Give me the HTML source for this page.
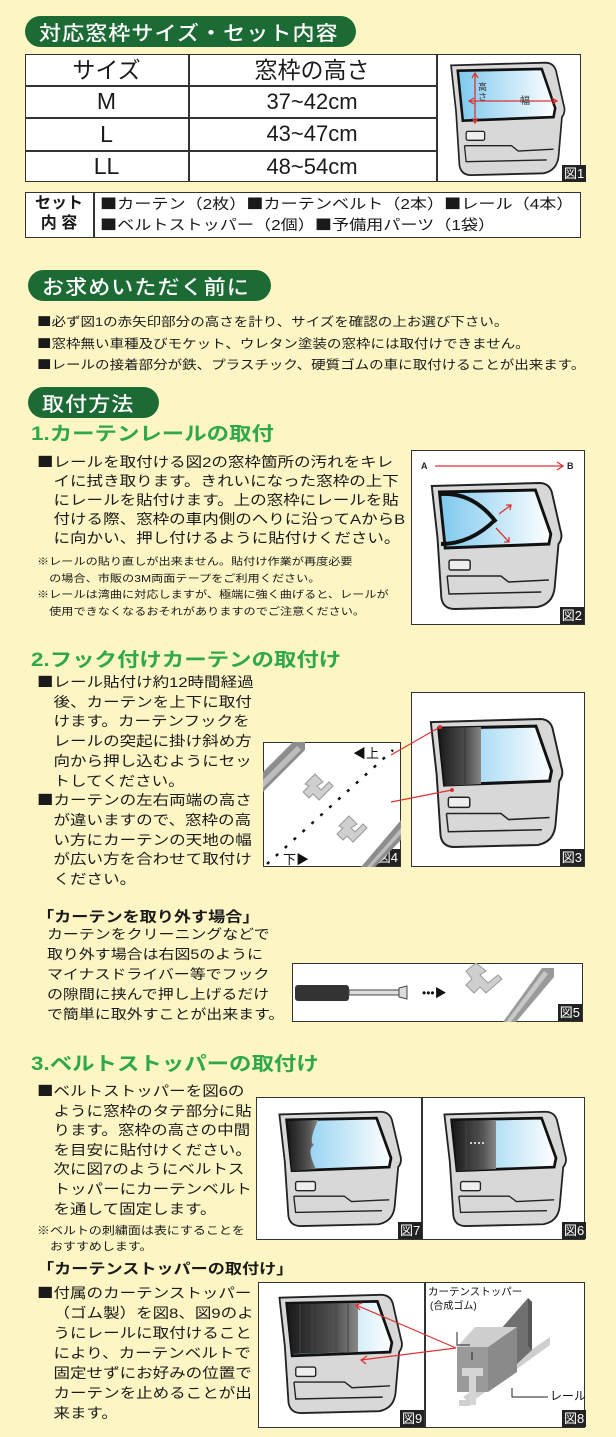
<!DOCTYPE html>
<html><head><meta charset="utf-8">
<style>
*{margin:0;padding:0;box-sizing:border-box}
body{width:616px;height:1437px;background:#fdf6c4;position:relative;overflow:hidden;font-family:"Liberation Sans","Noto Sans CJK JP",sans-serif;color:#1a1a1a}
.a{position:absolute}
.t{position:absolute;transform-origin:0 0;transform:scaleX(1.18);white-space:nowrap}
.q{font-family:"Noto Sans CJK JP",sans-serif}
.pill{position:absolute;background:#1c6b35;color:#fff;border-radius:16px;font-size:20px;line-height:31px;padding-left:14px;letter-spacing:1px;font-weight:bold}
.pill span{display:inline-block;transform-origin:0 50%;transform:scaleX(1.1);white-space:nowrap;font-family:"Noto Sans CJK JP",sans-serif;font-weight:500}
.gh{position:absolute;color:#2ea84a;font-weight:bold;font-size:19px;line-height:24px;transform-origin:0 0;transform:scaleX(1.18);white-space:nowrap}
.in{padding-left:1em}
.fig{position:absolute;background:#fff;border:1.5px solid #333}
.lab{position:absolute;right:0;bottom:0;background:#222;color:#fff;font-size:13px;line-height:17px;padding:0 2px}
svg{position:absolute;left:0;top:0}
</style></head><body>
<svg width="0" height="0" style="position:absolute">
<defs>
<linearGradient id="gl" x1="0" x2="1" y1="0" y2="0"><stop offset="0" stop-color="#7cc8ee"/><stop offset="1" stop-color="#fff"/></linearGradient>
<linearGradient id="ct" x1="0" x2="1" y1="0" y2="0"><stop offset="0" stop-color="#1a1a1a"/><stop offset="0.7" stop-color="#555"/><stop offset="1" stop-color="#888"/></linearGradient>
<symbol id="door" viewBox="0 0 150 130" preserveAspectRatio="none">
<path d="M6,6 L118,3 Q128,3 131,12 L140,50 Q143,58 138,64 L134,108 Q132,124 116,127 L30,129 Q18,129 16,118 L12,58 Z" fill="#d8d8d8" stroke="#222" stroke-width="2"/>
<path d="M14,12 L114,10 L130,54 L128,64 L20,68 Z" fill="url(#gl)" stroke="#111" stroke-width="3"/>
<rect x="24" y="80" width="22" height="10" rx="2" fill="#eee" stroke="#222" stroke-width="1.5"/>
<path d="M22,96 L78,96 L86,102 L128,100 M22,96 L24,114 L120,112" fill="none" stroke="#222" stroke-width="1.5"/>
</symbol>
</defs></svg>

<div class="pill" style="left:25px;top:16px;width:331px;height:31px"><span>対応窓枠サイズ・セット内容</span></div>
<div class="a" style="left:25px;top:54px;width:556px;height:128px;background:#fff;border:1.5px solid #333"></div>
<div class="a" style="left:188px;top:54px;width:1.5px;height:128px;background:#333"></div>
<div class="a" style="left:436px;top:54px;width:1.5px;height:128px;background:#333"></div>
<div class="a" style="left:25px;top:85px;width:411px;height:1.5px;background:#333"></div>
<div class="a" style="left:25px;top:117px;width:411px;height:1.5px;background:#333"></div>
<div class="a" style="left:25px;top:150px;width:411px;height:1.5px;background:#333"></div>
<div class="a" style="left:25px;top:55px;width:163px;text-align:center;font-size:23px;line-height:30px">サイズ</div>
<div class="a" style="left:188px;top:55px;width:248px;text-align:center;font-size:23px;line-height:30px">窓枠の高さ</div>
<div class="a" style="left:25px;top:86px;width:163px;text-align:center;font-size:23px;line-height:31px">M</div>
<div class="a" style="left:25px;top:118px;width:163px;text-align:center;font-size:23px;line-height:32px">L</div>
<div class="a" style="left:25px;top:151px;width:163px;text-align:center;font-size:23px;line-height:31px">LL</div>
<div class="a" style="left:188px;top:86px;width:248px;text-align:center;font-size:22px;line-height:31px">37~42cm</div>
<div class="a" style="left:188px;top:118px;width:248px;text-align:center;font-size:22px;line-height:32px">43~47cm</div>
<div class="a" style="left:188px;top:151px;width:248px;text-align:center;font-size:22px;line-height:31px">48~54cm</div>
<svg class="a" style="left:446px;top:60px" width="126" height="116"><use href="#door" width="126" height="116"/>
<path d="M29,14 V62 M24,41 H110" stroke="#d33" stroke-width="1.3" fill="none"/>
<path d="M26,18 L29,13 L32,18 M26,58 L29,63 L32,58 M28,38 L23,41 L28,44 M106,38 L111,41 L106,44" stroke="#d33" stroke-width="1.3" fill="none"/>
<text x="32" y="30" font-size="9" fill="#333">高</text><text x="32" y="40" font-size="9" fill="#333">さ</text><text x="74" y="44" font-size="10" fill="#333">幅</text></svg>
<div class="lab" style="left:562px;top:165px;right:auto;bottom:auto">図1</div>

<div class="a" style="left:25px;top:192px;width:556px;height:46px;background:#fff;border:1.5px solid #333"></div>
<div class="a" style="left:93px;top:192px;width:1.5px;height:46px;background:#333"></div>
<div class="a" style="left:25px;top:194px;width:68px;text-align:center;font-weight:bold;font-size:16px;line-height:20px">セット<br>内 容</div>
<div class="t" style="left:100px;top:194px;font-size:14.5px;line-height:20px"><span class="q">■</span>カーテン（2枚）<span class="q">■</span>カーテンベルト（2本）<span class="q">■</span>レール（4本）<br><span class="q">■</span>ベルトストッパー（2個）<span class="q">■</span>予備用パーツ（1袋）</div>

<div class="pill" style="left:28px;top:270px;width:243px;height:31px"><span>お求めいただく前に</span></div>
<div class="t" style="left:37px;top:311px;font-size:12.3px;line-height:20.5px"><span class="q">■</span>必ず図1の赤矢印部分の高さを計り、サイズを確認の上お選び下さい。<br><span class="q">■</span>窓枠無い車種及びモケット、ウレタン塗装の窓枠には取付けできません。<br><span class="q">■</span>レールの接着部分が鉄、プラスチック、硬質ゴムの車に取付けることが出来ます。</div>

<div class="pill" style="left:28px;top:387px;width:131px;height:31px"><span>取付方法</span></div>
<div class="gh" style="left:31px;top:423px">1.カーテンレールの取付</div>
<div class="t" style="left:37px;top:453px;font-size:14px;line-height:19px"><span class="q">■</span>レールを取付ける図2の窓枠箇所の汚れをキレ<div class="in">イに拭き取ります。きれいになった窓枠の上下</div><div class="in">にレールを貼付けます。上の窓枠にレールを貼</div><div class="in">付ける際、窓枠の車内側のへりに沿ってAからB</div><div class="in">に向かい、押し付けるように貼付けください。</div></div>
<div class="t" style="left:37px;top:555px;font-size:10.3px;line-height:16.7px">※レールの貼り直しが出来ません。貼付け作業が再度必要<div style="padding-left:1em">の場合、市販の3M両面テープをご利用ください。</div>※レールは湾曲に対応しますが、極端に強く曲げると、レールが<div style="padding-left:1em">使用できなくなるおそれがありますのでご注意ください。</div></div>
<div class="fig" style="left:411px;top:450px;width:174px;height:175px"><div class="lab">図2</div></div>
<svg class="a" style="left:411px;top:450px" width="174" height="175">
<text x="10" y="19" font-size="9" font-weight="bold" fill="#222">A</text><text x="156" y="19" font-size="9" font-weight="bold" fill="#222">B</text>
<path d="M24,16 H152 M146,12 L152,16 L146,20" stroke="#d33" stroke-width="1.3" fill="none"/>
<use href="#door" x="15" y="30" width="144" height="130"/>
<path d="M30,44 Q62,42 85,72 M30,94 Q60,94 85,69" stroke="#111" stroke-width="4" fill="none"/>
<path d="M88,64 L100,55 M95,55 L100,55 L99,60 M85,78 L98,92 M93,92 L98,92 L98,87" stroke="#d33" stroke-width="1.3" fill="none"/>
</svg>

<div class="gh" style="left:31px;top:649px">2.フック付けカーテンの取付け</div>
<div class="t" style="left:37px;top:673px;font-size:14px;line-height:19.7px"><span class="q">■</span>レール貼付け約12時間経過<div class="in">後、カーテンを上下に取付</div><div class="in">けます。カーテンフックを</div><div class="in">レールの突起に掛け斜め方</div><div class="in">向から押し込むようにセッ</div><div class="in">トしてください。</div><span class="q">■</span>カーテンの左右両端の高さ<div class="in">が違いますので、窓枠の高</div><div class="in">い方にカーテンの天地の幅</div><div class="in">が広い方を合わせて取付け</div><div class="in">ください。</div></div>
<div class="fig" style="left:263px;top:742px;width:138px;height:125px"><div class="lab">図4</div></div>
<svg class="a" style="left:263px;top:742px" width="138" height="125">
<path d="M0,30 L30,0 L42,0 L42,8 L0,50 Z" fill="#8d8d8d"/>
<path d="M0,38 L34,4 L38,8 L0,46 Z" fill="#bdbdbd"/>
<path d="M98,125 L138,78 L138,98 L112,125 Z" fill="#8d8d8d"/>
<path d="M104,125 L138,86 L138,92 L108,125 Z" fill="#bdbdbd"/>
<path d="M4,122 L130,8" stroke="#111" stroke-width="2.5" stroke-dasharray="3,9" fill="none"/>
<path d="M42,42 L52,32 L60,40 L54,44 L58,48 L66,40 L70,44 L56,58 L50,52 L46,56 L40,50 L46,44 Z" fill="#cfcfcf" stroke="#999"/>
<path d="M76,84 L86,74 L94,82 L88,86 L92,90 L100,82 L104,86 L90,100 L84,94 L80,98 L74,92 L80,86 Z" fill="#cfcfcf" stroke="#999"/>
<text x="90" y="16" font-size="13" fill="#111">◀上</text><text x="20" y="122" font-size="13" fill="#111">下▶</text>
</svg>
<div class="fig" style="left:411px;top:692px;width:174px;height:175px"><div class="lab">図3</div></div>
<svg class="a" style="left:411px;top:692px" width="174" height="175">
<use href="#door" x="14" y="24" width="146" height="132"/>
<path d="M28,36 L70,35 L70,92 L34,94 Z" fill="url(#ct)"/>
<path d="M42,36 V93 M54,35 V92" stroke="#333" stroke-width="1"/>
</svg>

<div class="t" style="left:37px;top:908px;font-size:14.5px;line-height:20px;font-weight:bold">「カーテンを取り外す場合」</div>
<div class="t" style="left:47px;top:925px;font-size:13.5px;line-height:20px">カーテンをクリーニングなどで<br>取り外す場合は右図5のように<br>マイナスドライバー等でフック<br>の隙間に挟んで押し上げるだけ<br>で簡単に取外すことが出来ます。</div>
<div class="fig" style="left:292px;top:963px;width:291px;height:59px"><div class="lab">図5</div></div>
<svg class="a" style="left:292px;top:963px" width="291" height="59">
<rect x="3" y="22" width="54" height="16" rx="3" fill="#333"/>
<rect x="57" y="27" width="50" height="5" fill="#ddd" stroke="#444"/>
<path d="M107,25 L115,23 L115,36 L107,34 Z" fill="#ddd" stroke="#444"/>
<text x="130" y="34" font-size="12" fill="#111">•••▶</text>
<path d="M174,8 L184,0 L194,8 L188,12 L196,20 L206,12 L210,16 L194,30 L188,24 L182,30 L174,22 L180,16 Z" fill="#cfcfcf" stroke="#999"/>
<path d="M211,59 L250,5 L262,5 L262,14 L224,59 Z" fill="#9a9a9a"/>
<path d="M214,59 L252,8 L256,11 L219,59 Z" fill="#c8c8c8"/>
</svg>

<div class="gh" style="left:31px;top:1053px">3.ベルトストッパーの取付け</div>
<div class="t" style="left:37px;top:1082px;font-size:14px;line-height:19.6px"><span class="q">■</span>ベルトストッパーを図6の<div class="in">ように窓枠のタテ部分に貼</div><div class="in">ります。窓枠の高さの中間</div><div class="in">を目安に貼付けください。</div><div class="in">次に図7のようにベルトス</div><div class="in">トッパーにカーテンベルト</div><div class="in">を通して固定します。</div></div>
<div class="t" style="left:37px;top:1224px;font-size:11px;line-height:15.5px">※ベルトの刺繍面は表にすることを<div class="in">おすすめします。</div></div>
<div class="fig" style="left:256px;top:1097px;width:329px;height:143px"></div>
<div class="a" style="left:421px;top:1097px;width:1.5px;height:143px;background:#333"></div>
<div class="lab" style="left:398px;top:1222px;right:auto;bottom:auto">図7</div>
<div class="lab" style="left:562px;top:1222px;right:auto;bottom:auto">図6</div>
<svg class="a" style="left:256px;top:1097px" width="329" height="143">
<use href="#door" x="18" y="12" width="135" height="118"/>
<path d="M32,24 L62,23 Q52,45 58,48 Q50,52 60,72 L36,74 Z" fill="url(#ct)"/>
<use href="#door" x="183" y="12" width="135" height="118"/>
<path d="M197,24 L240,23 L240,72 L201,74 Z" fill="url(#ct)"/>
<path d="M210,24 V73 M222,24 V73" stroke="#444"/>
<path d="M228,46 H212" stroke="#fff" stroke-width="1.5" stroke-dasharray="2,2"/>
</svg>

<div class="t" style="left:37px;top:1260px;font-size:14.5px;line-height:20px;font-weight:bold">「カーテンストッパーの取付け」</div>
<div class="t" style="left:37px;top:1283px;font-size:14px;line-height:20px"><span class="q">■</span>付属のカーテンストッパー<div class="in">（ゴム製）を図8、図9のよ</div><div class="in">うにレールに取付けること</div><div class="in">により、カーテンベルトで</div><div class="in">固定せずにお好みの位置で</div><div class="in">カーテンを止めることが出</div><div class="in">来ます。</div></div>
<div class="fig" style="left:258px;top:1282px;width:327px;height:146px"></div>
<div class="a" style="left:424px;top:1282px;width:1.5px;height:146px;background:#333"></div>
<div class="lab" style="left:400px;top:1410px;right:auto;bottom:auto">図9</div>
<div class="lab" style="left:562px;top:1410px;right:auto;bottom:auto">図8</div>
<svg class="a" style="left:258px;top:1282px" width="327" height="146">
<use href="#door" x="16" y="10" width="136" height="122"/>
<path d="M30,22 L100,21 L100,70 L34,72 Z" fill="url(#ct)"/>
<path d="M42,22 V71 M54,22 V71 M66,22 V71 M78,21 V71 M90,21 V71" stroke="#444"/>
<g transform="translate(-258,-1282)">
<path d="M463,1397 L550,1337 L550,1345 L470,1403 Z" fill="#cfcfcf"/>
<path d="M500,1330 L528,1298 L532,1302 L532,1350 L505,1375 Z" fill="#707070"/>
<path d="M528,1298 L532,1302 L532,1350 L528,1346 Z" fill="#555"/>
<path d="M457,1347 L475,1327 L517,1327 L488,1347 Z" fill="#cfcfcf"/>
<path d="M488,1347 L517,1327 L517,1372 L488,1392 Z" fill="#8a8a8a"/>
<rect x="457" y="1347" width="31" height="45" fill="#9a9a9a"/>
<path d="M462,1368 H483 V1376 H476 V1405 H469 V1376 H462 Z" fill="#d5d5d5"/>
<path d="M459,1400 H470 V1406 H459 Z" fill="#cfcfcf"/>
<path d="M457,1332 V1345 H470 M512,1388 V1397 H548 M472,1352 V1360" stroke="#222" stroke-width="1" fill="none"/>
<text x="428" y="1295" font-size="10.5" fill="#111">カーテンストッパー</text>
<text x="430" y="1309" font-size="10" fill="#111">(合成ゴム)</text>
<text x="550" y="1400" font-size="12" fill="#111">レール</text>
</g>
</svg>

<svg class="a" style="left:0;top:0;pointer-events:none" width="616" height="1437">
<path d="M391,755 L440,727 M391,802 L452,790" stroke="#d33" stroke-width="1.2" fill="none"/>
<circle cx="440" cy="727" r="2" fill="#d33"/><circle cx="452" cy="790" r="2" fill="#d33"/>
<path d="M456,1348 L356,1305 M456,1348 L361,1360" stroke="#d33" stroke-width="1.2" fill="none"/>
<path d="M362,1303 L356,1305 L360,1310 M367,1356 L361,1360 L366,1364" stroke="#d33" stroke-width="1.2" fill="none"/>
</svg>
</body></html>
